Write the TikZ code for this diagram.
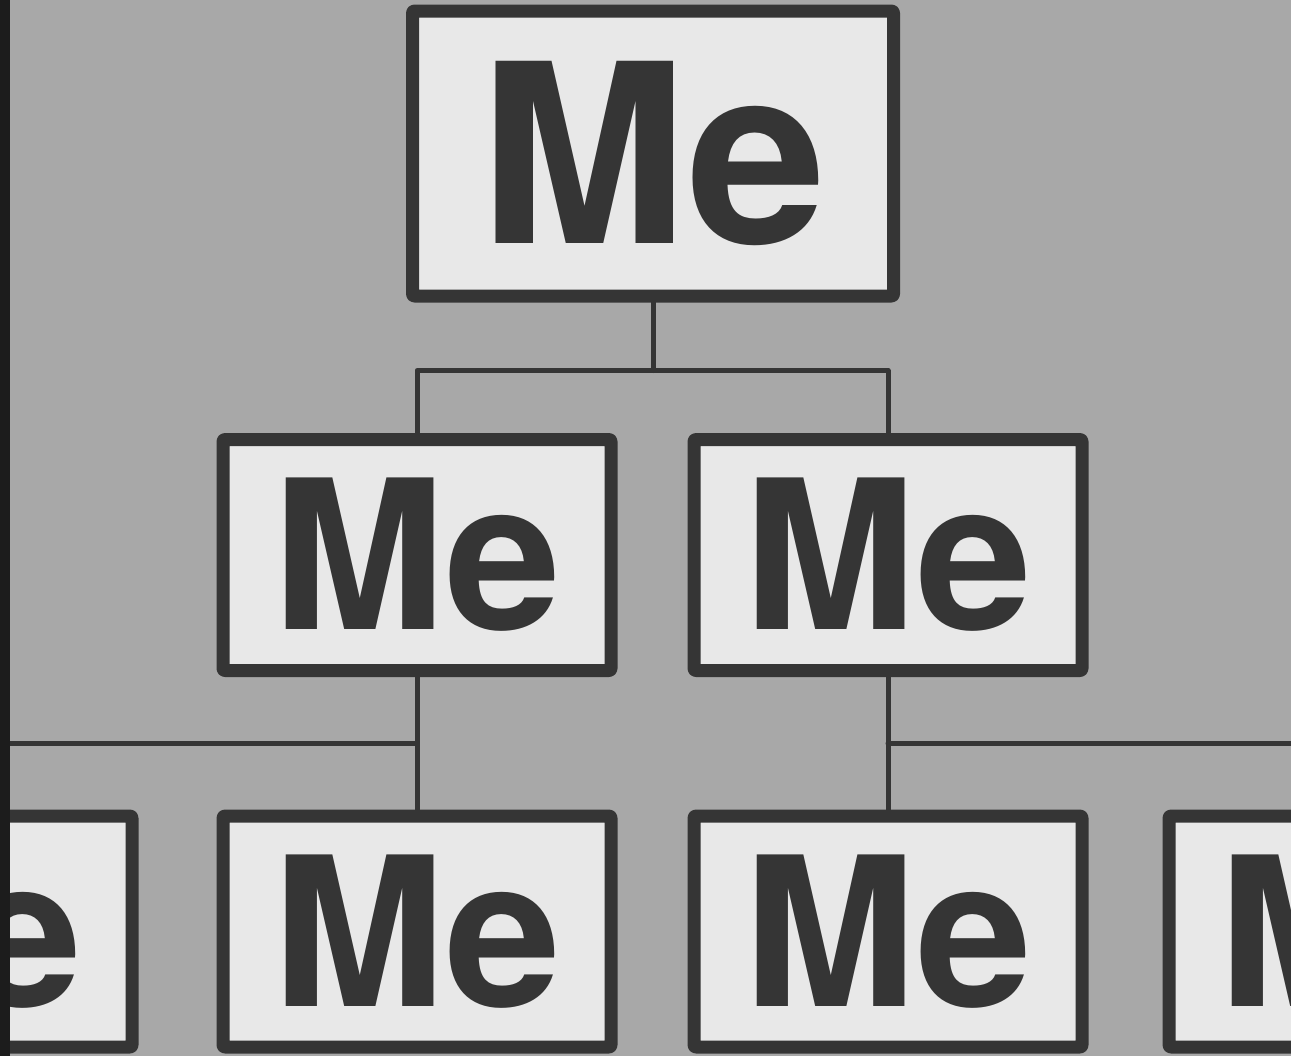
\documentclass[tikz,border=0pt]{standalone}
\usepackage{fontspec}
\setmainfont{TeX Gyre Heros}
\definecolor{nen}{HTML}{A8A8A8}
\definecolor{vien}{HTML}{353535}
\definecolor{ruot}{HTML}{E8E8E8}
\definecolor{le}{HTML}{1C1C1C}
\begin{document}
\begin{tikzpicture}[x=0.5pt,y=-0.5pt,line cap=round,line join=round]
	\useasboundingbox (0,0) rectangle (1291,1056);
	\clip (0,0) rectangle (1291,1056);
	\fill[nen] (0,0) rectangle (1291,1056);
	\tikzset{o/.style={draw=vien,fill=ruot,line width=6.5pt,rounded corners=1pt,inner sep=0pt,text=vien,
			font=\bfseries\fontsize{104pt}{104pt}\selectfont,minimum width=194pt,minimum height=115.5pt},
		noi/.style={draw=vien,line width=2.5pt}}
	\node[o,minimum width=240.5pt,minimum height=142.5pt,font=\bfseries\fontsize{125pt}{125pt}\selectfont] (goc) at (653,153.5) {Me};
	\node[o] (t1) at (417,555) {Me};
	\node[o] (t2) at (888,555) {Me};
	\foreach \x/\n in{-62/c1,417/c2,888/c3,1363/c4}{\node[o] (\n) at (\x,931.5) {Me};}
	\draw[noi] (goc.south) -- ++(0,68) coordinate (r0);
	\draw[noi] (t1.north) |- (r0) -| (t2.north);
	\draw[noi] (t1.south) -- (c2.north);
	\draw[noi] (c1.north) |- (t1.south |- 0,743);
	\draw[noi] (t2.south) -- (c3.north);
	\draw[noi] (c4.north) |- (t2.south |- 0,743);
	\fill[le] (0,0) rectangle (10,1056);
\end{tikzpicture}
\end{document}
